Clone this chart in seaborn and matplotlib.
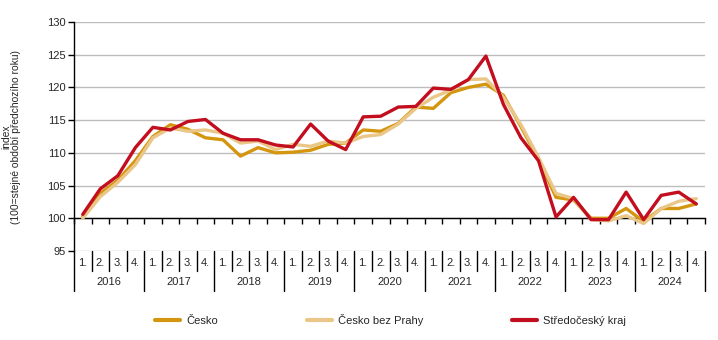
import numpy as np
import pandas as pd
import matplotlib
matplotlib.use("Agg")
import matplotlib.pyplot as plt
import seaborn as sns
from matplotlib.lines import Line2D

years = ["2016", "2017", "2018", "2019", "2020", "2021", "2022", "2023", "2024"]
quarters = ["1.", "2.", "3.", "4."]

cesko = [100.3, 103.8, 105.8, 108.8,
         112.5, 114.3, 113.6, 112.3,
         112.0, 109.5, 110.8, 110.0,
         110.1, 110.4, 111.3, 111.5,
         113.5, 113.3, 114.5, 117.0,
         116.8, 119.2, 120.0, 120.5,
         118.8, 114.0, 109.0, 103.2,
         102.8, 100.0, 100.0, 101.5,
         99.5, 101.5, 101.5, 102.2]

cesko_bez_prahy = [100.0, 103.3, 105.5, 108.2,
                   112.3, 113.8, 113.3, 113.5,
                   113.0, 111.5, 111.8, 110.5,
                   111.3, 111.0, 111.8, 111.5,
                   112.5, 112.8, 114.4, 116.8,
                   118.5, 119.6, 121.2, 121.3,
                   118.5, 114.3, 109.3, 103.8,
                   103.0, 99.8, 99.6, 100.4,
                   99.2, 101.5, 102.6, 103.0]

stredocesky = [100.6, 104.5, 106.5, 110.8,
               113.9, 113.5, 114.8, 115.1,
               113.0, 112.0, 112.0, 111.2,
               110.9, 114.4, 111.8, 110.5,
               115.5, 115.6, 117.0, 117.1,
               119.9, 119.7, 121.2, 124.8,
               117.4, 112.3, 108.8, 100.2,
               103.2, 99.8, 99.8, 104.0,
               99.8, 103.5, 104.0, 102.2]

series_names = ["Česko", "Česko bez Prahy", "Středočeský kraj"]
colors = ["#D4960F", "#EAC688", "#C20E1F"]

n = len(cesko)
idx = np.arange(n)
df = pd.DataFrame({
    "x": np.concatenate([idx, idx, idx]),
    "value": cesko + cesko_bez_prahy + stredocesky,
    "series": [series_names[0]] * n + [series_names[1]] * n + [series_names[2]] * n,
})

sns.set_style("white")
plt.rcParams["font.family"] = ["Liberation Sans", "DejaVu Sans"]

FS = 8

fig = plt.figure(figsize=(7.18, 3.40), dpi=100)
ax = fig.add_axes([74 / 718, 1 - 251 / 340, 631 / 718, 229 / 340])

sns.lineplot(data=df, x="x", y="value", hue="series", hue_order=series_names,
             palette=colors, linewidth=2.4, ax=ax, legend=False, zorder=3)

ax.set_xlim(-0.5, n - 0.5)
ax.set_ylim(95, 130)
ax.set_yticks(np.arange(95, 131, 5))
ax.yaxis.grid(True, color="#BDBDBD", linewidth=1)
ax.set_axisbelow(True)

for s in ["top", "right"]:
    ax.spines[s].set_visible(False)
ax.spines["left"].set_color("black")
ax.spines["left"].set_linewidth(1)
ax.spines["bottom"].set_position(("data", 100))
ax.spines["bottom"].set_color("black")
ax.spines["bottom"].set_linewidth(1)
ax.spines["bottom"].set_zorder(2)

ax.set_xticks(np.arange(-0.5, n, 1.0))
ax.set_xticklabels([])
ax.tick_params(axis="x", direction="out", length=4, width=1, color="black", bottom=True)
ax.tick_params(axis="y", direction="out", length=4, width=1, color="black", left=True,
               labelsize=FS, pad=2)
ax.set_xlabel("")
ax.set_ylabel("index\n(100=stejné období předchozího roku)", fontsize=7.4, linespacing=1.0)
ax.yaxis.set_label_coords(-53 / 631, 0.5)

# category axis below
trans = ax.get_xaxis_transform()
h = 229.0
q_end = -(271 - 251) / h
y_end = -(291 - 251) / h
for i in range(n + 1):
    b = i - 0.5
    end = y_end if i % 4 == 0 else q_end
    ax.plot([b, b], [0, end], transform=trans, color="black", lw=1, clip_on=False)
for i in range(n):
    ax.text(i, -(263 - 251) / h, quarters[i % 4], transform=trans, ha="center", va="center",
            fontsize=FS)
for j, yr in enumerate(years):
    ax.text(4 * j + 1.5, -(282 - 251) / h, yr, transform=trans, ha="center", va="center",
            fontsize=FS)

handles = [Line2D([], [], color=c, lw=3) for c in colors]
fig.legend(handles, series_names, loc="center left", bbox_to_anchor=(155 / 718, 1 - 320 / 340),
           ncol=3, frameon=False, fontsize=FS, handlelength=2.25, handletextpad=0.55,
           columnspacing=8.0, borderaxespad=0, borderpad=0)

fig.savefig("out.png", dpi=100)
